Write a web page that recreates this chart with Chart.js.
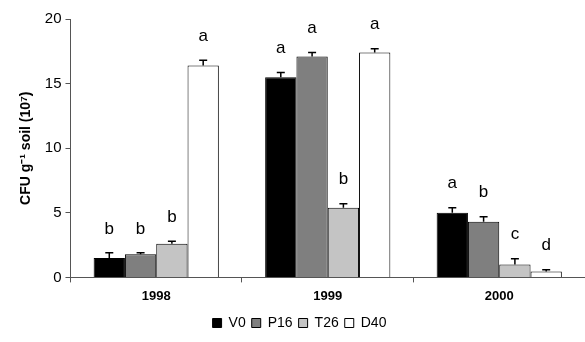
<!DOCTYPE html>
<html>
<head>
<meta charset="utf-8">
<script src="https://cdn.jsdelivr.net/npm/chart.js@4/dist/chart.umd.min.js"></script>
<style>
  html, body { margin: 0; padding: 0; background: #fff; }
  #wrap { width: 585px; height: 342px; }
</style>
</head>
<body>
<div id="wrap"><canvas id="chart"></canvas></div>
<script>
const years = ['1998', '1999', '2000'];
const seriesNames = ['V0', 'P16', 'T26', 'D40'];

const v0 = [1.5, 15.5, 5.0];
const p16 = [1.8, 17.1, 4.3];
const t26 = [2.6, 5.4, 1.0];
const d40 = [16.4, 17.4, 0.45];

// upper error (standard error) for each bar
const v0Err = [0.4, 0.35, 0.4];
const p16Err = [0.1, 0.3, 0.4];
const t26Err = [0.2, 0.3, 0.45];
const d40Err = [0.4, 0.3, 0.15];

// significance letters
const v0Sig = ['b', 'a', 'a'];
const p16Sig = ['b', 'a', 'b'];
const t26Sig = ['b', 'b', 'c'];
const d40Sig = ['a', 'a', 'd'];

const yTicks = [0, 5, 10, 15, 20];

const fills = ['#000000', '#7f7f7f', '#c4c4c4', '#ffffff'];
const values = [v0, p16, t26, d40];
const errors = [v0Err, p16Err, t26Err, d40Err];
const letters = [v0Sig, p16Sig, t26Sig, d40Sig];

const errorBars = {
    id: 'errorBars',
    afterDatasetsDraw(chart) {
        const ctx = chart.ctx;
        const y = chart.scales.y;
        ctx.save();
        chart.data.datasets.forEach((ds, i) => {
            const meta = chart.getDatasetMeta(i);
            meta.data.forEach((bar, j) => {
                const top = y.getPixelForValue(ds.data[j] + errors[i][j]);
                ctx.strokeStyle = '#000';
                ctx.lineWidth = 1.5;
                ctx.beginPath();
                ctx.moveTo(bar.x, bar.y);
                ctx.lineTo(bar.x, top);
                ctx.moveTo(bar.x - 4, top);
                ctx.lineTo(bar.x + 4, top);
                ctx.stroke();
                ctx.fillStyle = '#000';
                ctx.font = '17px "Liberation Sans", Arial, sans-serif';
                ctx.textAlign = 'center';
                ctx.textBaseline = 'middle';
                ctx.fillText(letters[i][j], bar.x, top - 24);
            });
        });
        ctx.restore();
    }
};

new Chart(document.getElementById('chart'), {
    type: 'bar',
    data: {
        labels: years,
        datasets: seriesNames.map((name, i) => ({
            label: name,
            data: values[i],
            backgroundColor: fills[i],
            borderColor: '#000',
            borderWidth: 1,
            categoryPercentage: 0.73,
            barPercentage: 1.0
        }))
    },
    options: {
        responsive: true,
        maintainAspectRatio: false,
        animation: false,
        layout: { padding: { top: 19, right: 0, left: 14, bottom: 2 } },
        plugins: {
            legend: {
                position: 'bottom',
                labels: {
                    font: { family: '"Liberation Sans", Arial, sans-serif', size: 14 },
                    color: '#000',
                    boxWidth: 9,
                    boxHeight: 9,
                    padding: 6
                }
            },
            tooltip: { enabled: false }
        },
        scales: {
            x: {
                grid: { display: true, drawOnChartArea: false, drawTicks: true, tickLength: 5, color: '#555' },
                border: { color: '#555', width: 1 },
                ticks: {
                    color: '#000',
                    font: { family: '"Liberation Sans", Arial, sans-serif', size: 13, weight: 'bold' },
                    padding: 6
                }
            },
            y: {
                min: 0,
                max: 20,
                afterBuildTicks: (axis) => { axis.ticks = yTicks.map(v => ({ value: v })); },
                grid: { display: true, drawOnChartArea: false, drawTicks: true, tickLength: 5, color: '#555' },
                border: { color: '#555', width: 1 },
                ticks: {
                    color: '#000',
                    font: { family: '"Liberation Sans", Arial, sans-serif', size: 15 },
                    padding: 4
                },
                title: {
                    display: true,
                    text: 'CFU g⁻¹ soil (10⁷)',
                    color: '#000',
                    font: { family: '"Liberation Sans", Arial, sans-serif', size: 14, weight: 'bold' },
                    padding: { bottom: 6 }
                }
            }
        }
    },
    plugins: [errorBars]
});
</script>
</body>
</html>
